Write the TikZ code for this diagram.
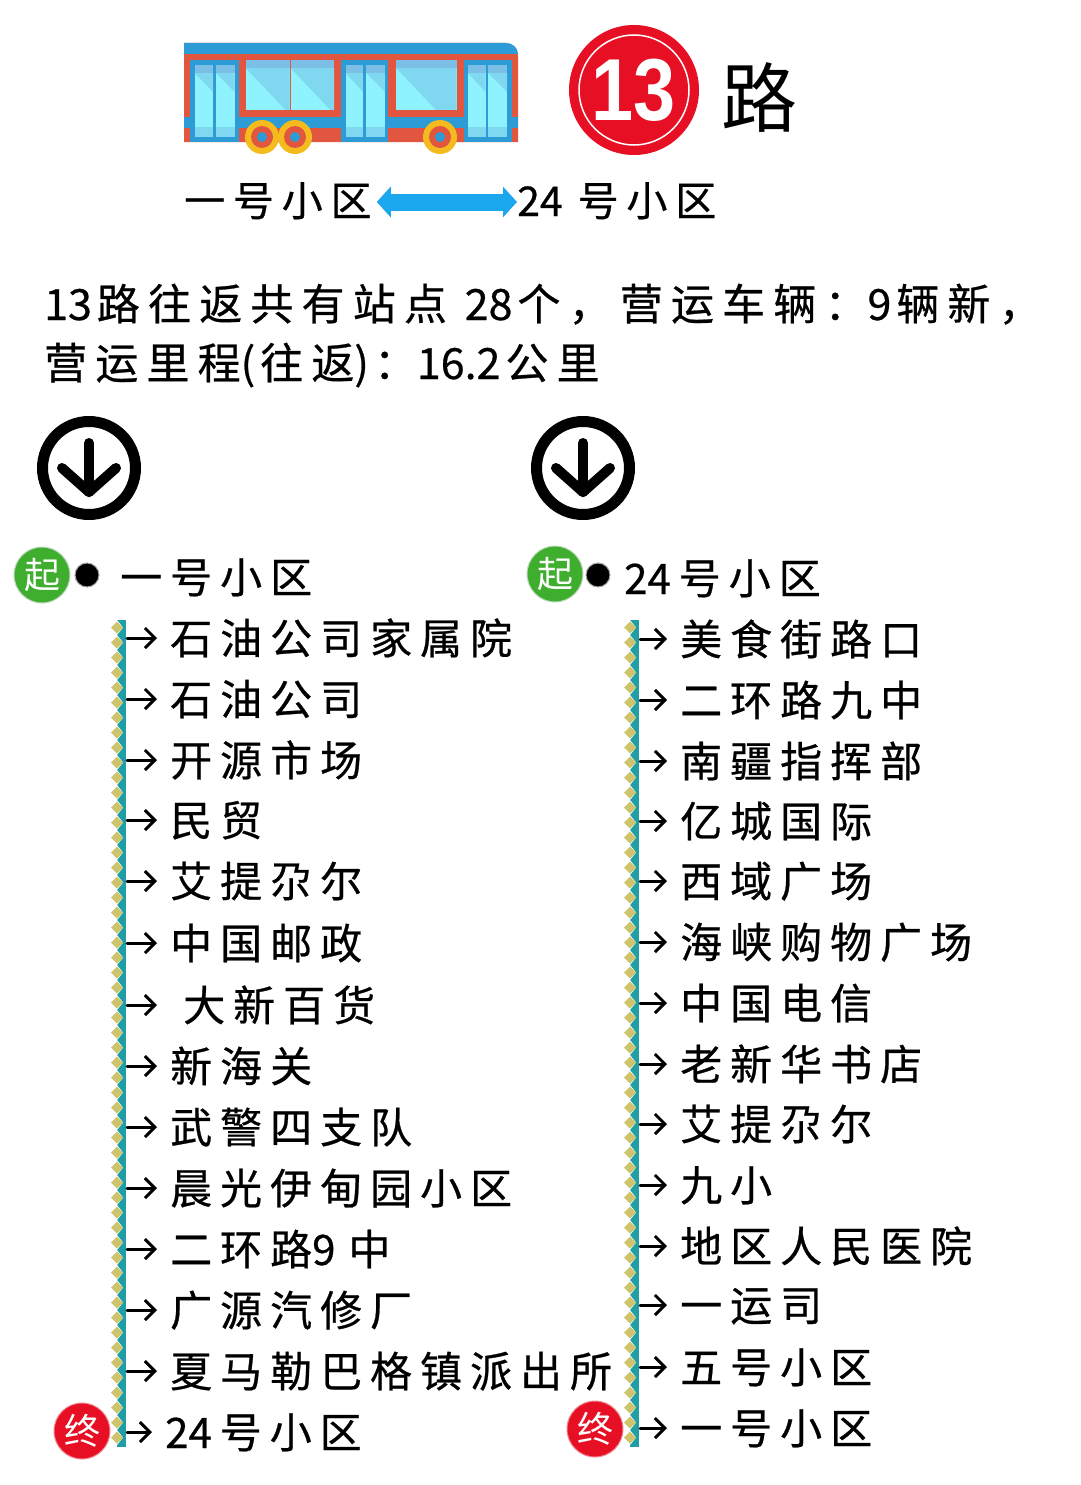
\documentclass[tikz,border=0pt]{standalone}
\usepackage{fontspec}
\setmainfont{Noto Sans CJK SC}
\newfontfamily\stopfont[LetterSpace=19,FakeBold=0.6]{Noto Sans CJK SC}
\newfontfamily\digitfont{Liberation Sans}
\newcommand{\tight}[2][5pt]{{\addfontfeature{LetterSpace=0}#2}\kern#1}
\usetikzlibrary{arrows.meta}
\definecolor{busblue}{HTML}{2C9BD6}
\definecolor{busred}{HTML}{E2553F}
\definecolor{glass}{HTML}{8FF3FF}
\definecolor{glassmid}{HTML}{80D8F0}
\definecolor{glasstop}{HTML}{7CBFE6}
\definecolor{wheelyellow}{HTML}{F4BB1F}
\definecolor{signred}{HTML}{E60F23}
\definecolor{signgreen}{HTML}{3FAE2E}
\definecolor{stripteal}{HTML}{1F9EA6}
\definecolor{stripkhaki}{HTML}{CFC46E}
\definecolor{linkblue}{HTML}{1AA7EE}
\tikzset{
    stoplabel/.style={anchor=west,inner sep=0pt,text height=36pt,text depth=4pt,font=\stopfont\fontsize{42}{42}\selectfont},
    stoparrow/.style={line width=3pt,line cap=round,-{Straight Barb[length=10pt,width=20pt,line width=3pt]},shorten >=13pt},
    introline/.style={stoplabel,font=\stopfont\fontsize{43}{43}\selectfont},
    badge/.style={circle,minimum size=56pt,inner sep=0pt,line width=1pt,text=white,font=\fontsize{36}{36}\selectfont},
    dot/.style={circle,fill=black,draw=gray!70,line width=1pt,minimum size=24pt,inner sep=0pt},
    downsign/.style={circle,draw=black,line width=11pt,minimum size=93pt,inner sep=0pt},
    downstroke/.style={line width=10pt,line cap=round,line join=round},
}
\begin{document}
\begin{tikzpicture}[x=1pt,y=-1pt]
\useasboundingbox (0,0) rectangle (1080,1485);
\fill[busred] (184,43) -- (506,43) to[out=0,in=90] (518,56) -- (518,142) -- (184,142) -- cycle;
\fill[busblue] (184,43) -- (506,43) to[out=0,in=90] (518,54) -- (184,54) -- cycle;
\fill[busblue] (184,117) rectangle (518,128);
\foreach \a/\b in {190/239,341/388,464/512} {
\fill[busblue] (\a,60) rectangle (\b,142);
}
\foreach \a/\b in {194.5/213,216/234.5,345.5/363,366/385,468/485.5,488/507} {
\fill[glass] (\a,65) rectangle (\b,137);
\fill[glassmid] (\a,73) -- (\b,73) -- (\b,92) -- cycle;
\fill[glasstop] (\a,65) rectangle (\b,73);
\fill[glassmid] (\a,127) rectangle (\b,137);
}
\fill[busred] (240,56) rectangle (339,117);
\fill[busred] (390,56) rectangle (462,117);
\foreach \a/\b in {245.5/289.5,290.5/334,396/456.5} {
\fill[glass] (\a,60) rectangle (\b,110);
\fill[glassmid] (\a,68) -- (\b,68) -- (\b,110) -- (\a+40,110) -- cycle;
\fill[glasstop] (\a,60) rectangle (\b,68);
}
\foreach \w in {262,295,440} {
\fill[wheelyellow] (\w,137) circle (17);
\fill[busred] (\w,137) circle (11);
\fill[busblue] (\w,137) circle (5);
}
\node[circle,fill=signred,minimum size=130pt,inner sep=0pt] (sign) at (634,90) {};
\draw[white,line width=1.5pt] (sign.center) circle (55);
\node[white,inner sep=0pt,xscale=.86,transform shape,font=\digitfont\bfseries\fontsize{88}{88}\selectfont] (num) at (634,90) {13};
\node[inner sep=0pt,font=\fontsize{76}{76}\selectfont] (lu) at (759,98) {路};

\node[stoplabel,font=\stopfont\fontsize{41}{41}\selectfont] (from) at (184,200) {一号小区};
\node[stoplabel,font=\stopfont\fontsize{41}{41}\selectfont] (to) at (517,200) {\tight[15pt]{24}号小区};
\draw[linkblue,line width=17pt,{Triangle[length=14pt,width=30pt]}-{Triangle[length=14pt,width=30pt]},shorten <=5pt] (from.east |- 0,202) -- (to.west |- 0,202);

\node[introline] (intro) at (44,304) {\tight{13}路往返共有站点 \tight{28}个，营运车辆：\tight{9}辆新，};
\node[introline] (intro2) at (44,363) {营运里程\tight{(}往返\tight{)}：\tight{16.2}公里};

\foreach \x in {89,583} {
\node[downsign] (down\x) at (\x,468) {};
\draw[downstroke] (\x,443) -- (\x,492);
\draw[downstroke] (\x-27,468) -- (\x,492) -- (\x+27,468);
}

\node[badge,fill=signgreen,draw=green!25!gray!40] (startl) at (42,575) {起};
\node[dot] (dotl) at (87,575) {};
\node[stoplabel] (firstl) at (120,577) {一号小区};
\node[badge,fill=signgreen,draw=green!25!gray!40] (startr) at (555,574) {起};
\node[dot] (dotr) at (598,575) {};
\node[stoplabel] (firstr) at (624,578) {\tight[8pt]{24}号小区};
\node[badge,fill=signred,draw=signred!50] (endl) at (82,1431) {终};
\node[badge,fill=signred,draw=signred!50] (endr) at (595,1429) {终};

\foreach \s in {117,630} {
\fill[stripteal] (\s,620) rectangle (\s+9,1447);
\foreach \k in {0,...,54} {
\fill[white] (\s,620+15*\k) -- (\s+6,627.5+15*\k) -- (\s,635+15*\k) -- cycle;
\fill[stripkhaki] (\s,621.5+15*\k) -- (\s+6,627.5+15*\k) -- (\s,633.5+15*\k) -- (\s-6,627.5+15*\k) -- cycle;
}
}
\coordinate (linel) at (127,0);
\coordinate (liner) at (640,0);

\foreach \i/\x/\y/\t in {
1/170/638/石油公司家属院,2/170/699/石油公司,3/170/760/开源市场,4/170/820/民贸,
5/170/881/艾提尕尔,6/170/943/中国邮政,7/170/1005/\hspace{13pt}大新百货,8/170/1066/新海关,
9/170/1127/武警四支队,10/170/1188/晨光伊甸园小区,11/170/1249/二环路\tight[13pt]{9}中,12/170/1310/广源汽修厂,
13/170/1371/夏马勒巴格镇派出所,14/165/1432/\tight[8pt]{24}号小区} {
\node[stoplabel] (l\i) at (\x,\y) {\t};
\draw[stoparrow] (linel |- l\i.west) -- (l\i.west);
}
\foreach \i/\y/\t in {
1/639/美食街路口,2/700/二环路九中,3/761/南疆指挥部,4/821/亿城国际,
5/881/西域广场,6/942/海峡购物广场,7/1003/中国电信,8/1064/老新华书店,
9/1124/艾提尕尔,10/1185/九小,11/1246/地区人民医院,12/1305/一运司,
13/1367/五号小区,14/1428/一号小区} {
\node[stoplabel] (r\i) at (680,\y) {\t};
\draw[stoparrow] (liner |- r\i.west) -- (r\i.west);
}
\end{tikzpicture}
\end{document}
